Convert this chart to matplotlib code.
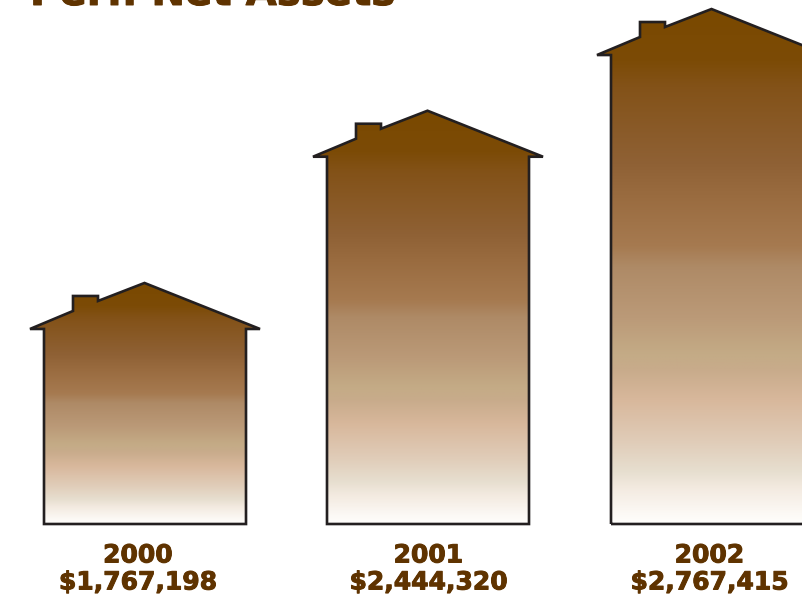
import matplotlib
matplotlib.use('Agg')
import matplotlib.pyplot as plt
import matplotlib.patheffects as pe
import numpy as np
from matplotlib.colors import LinearSegmentedColormap
from matplotlib.patches import Polygon

years = ['2000', '2001', '2002']
net_assets = [1767198, 2444320, 2767415]
title = 'Perf. Net Assets'

BROWN = '#5f3300'
OUTLINE = '#231f20'

W, H = 803, 595
BASE_Y = 524       # floor line of every house
ZERO_Y = 517.6     # where $0 sits on the value axis, the floor is a bit below
ROOF = 46
WALL_W = 202

# gradient runs from the roof peak down to the floor
grad_stops = [(0.00, '#7a4900'), (0.10, '#7c4b06'), (0.15, '#835218'), (0.30, '#8f6135'),
              (0.36, '#996b3f'), (0.46, '#a67a50'), (0.50, '#ae8a66'), (0.60, '#bb9a78'),
              (0.67, '#c4ab86'), (0.70, '#c8ab8b'), (0.76, '#d8b89c'), (0.84, '#e0ccb8'),
              (0.90, '#e7dfd0'), (0.93, '#f3eae0'), (0.98, '#fcf9f5'), (1.00, '#fffefc')]
cmap = LinearSegmentedColormap.from_list('house', grad_stops, N=512)
grad = np.linspace(0, 1, 512).reshape(-1, 1)

fig = plt.figure(figsize=(W / 100, H / 100), dpi=100)

# hidden value axis, wall height goes with the square of the dollars
val_ax = fig.add_axes([0, 1 - ZERO_Y / H, 1, ZERO_Y / H])
val_ax.set_yscale('function', functions=(lambda v: np.maximum(v, 0) ** 2, np.sqrt))
val_ax.set_ylim(0, np.sqrt(ZERO_Y / 60.4) * 1e6)
val_ax.axis('off')

# drawing layer in pixels, y pointing down
ax = fig.add_axes([0, 0, 1, 1])
ax.set_xlim(0, W)
ax.set_ylim(H, 0)
ax.axis('off')

heavy = [pe.withStroke(linewidth=0.7, foreground=BROWN)]


def house_outline(left, eave_y):
    right = left + WALL_W
    peak_x = left + 100.5
    peak_y = eave_y - ROOF
    return [(left, BASE_Y), (left, eave_y), (left - 14, eave_y),
            (left + 29, eave_y - 18), (left + 29, eave_y - 33), (left + 54, eave_y - 33),
            (left + 54, eave_y - 28), (peak_x, peak_y), (right + 14, eave_y),
            (right, eave_y), (right, BASE_Y)]


lefts = [44, 327, 611]
centers = [138, 428.5, 709.5]

for left, cx, year, value in zip(lefts, centers, years, net_assets):
    eave_y = H - val_ax.transData.transform((0, value))[1]
    pts = house_outline(left, eave_y)
    img = ax.imshow(grad, cmap=cmap, vmin=0, vmax=1, aspect='auto', interpolation='bilinear',
                    extent=(left - 15, left + WALL_W + 15, BASE_Y, eave_y - ROOF), zorder=1)
    fill = Polygon(pts, closed=True, fc='none', ec='none', transform=ax.transData)
    ax.add_patch(fill)
    img.set_clip_path(fill)
    ax.add_patch(Polygon(pts, closed=True, fc='none', ec=OUTLINE, lw=1.9, joinstyle='miter', zorder=2))
    ax.text(cx, 555.5, year, ha='center', va='center', fontsize=18, fontweight='bold', color=BROWN,
            path_effects=heavy)
    ax.text(cx, 582.5, f'${value:,}', ha='center', va='center', fontsize=18, fontweight='bold', color=BROWN,
            path_effects=heavy)

ax.set_xlim(0, W)
ax.set_ylim(H, 0)
ax.text(30, 5, title, ha='left', va='baseline', fontsize=29, fontweight='bold', color=BROWN,
        path_effects=heavy)

fig.savefig('out.png', dpi=100)
